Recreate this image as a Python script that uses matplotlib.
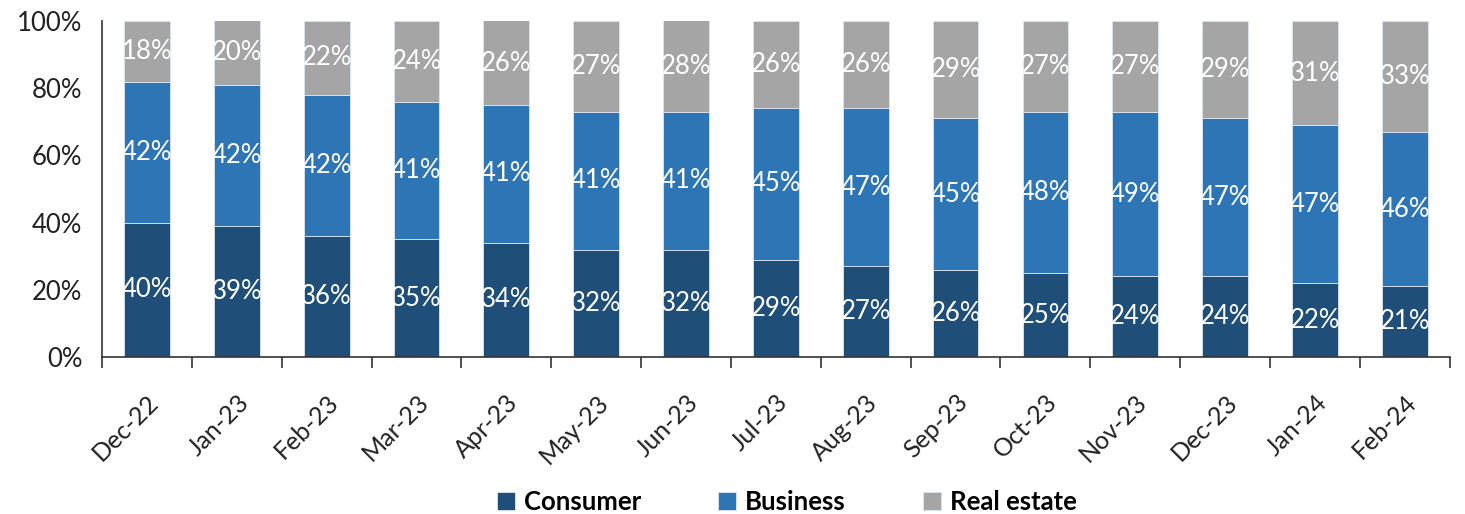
import matplotlib
matplotlib.use("Agg")
import matplotlib.pyplot as plt
import numpy as np

plt.rcParams['font.family'] = ['Lato', 'DejaVu Sans']

months = ["Dec-22", "Jan-23", "Feb-23", "Mar-23", "Apr-23", "May-23", "Jun-23",
          "Jul-23", "Aug-23", "Sep-23", "Oct-23", "Nov-23", "Dec-23", "Jan-24", "Feb-24"]
consumer = [40, 39, 36, 35, 34, 32, 32, 29, 27, 26, 25, 24, 24, 22, 21]
business = [42, 42, 42, 41, 41, 41, 41, 45, 47, 45, 48, 49, 47, 47, 46]
real_estate = [18, 20, 22, 24, 26, 27, 28, 26, 26, 29, 27, 27, 29, 31, 33]
yticks = [0, 20, 40, 60, 80, 100]

colors = {"Consumer": "#1f4e79", "Business": "#2e75b6", "Real estate": "#a5a5a5"}

fig = plt.figure(figsize=(14.65, 5.14), dpi=100)
ax = fig.add_axes([0.0696, 0.3054, 0.92, 0.6537])

x = np.arange(len(months))
width = 0.51
bottom = np.zeros(len(months))
for name, vals in [("Consumer", consumer), ("Business", business), ("Real estate", real_estate)]:
    vals = np.array(vals, dtype=float)
    ax.bar(x, vals, width, bottom=bottom, color=colors[name], label=name,
           edgecolor="#dbe7f3", linewidth=0.6, zorder=2)
    for xi, b, v in zip(x, bottom, vals):
        mid = b + v / 2
        if b + v > 100:
            mid = b + (100 - b) / 2
        ax.text(xi, mid, f"{int(v)}%", ha="center", va="center",
                color="white", fontsize=18.5, zorder=3)
    bottom += vals

ax.set_xlim(-0.5, len(months) - 0.5)
ax.set_ylim(0, 100)
ax.set_yticks(yticks)
ax.set_yticklabels([f"{t}%" for t in yticks], fontsize=18.5, color="#222222")
ax.tick_params(axis="y", length=0, pad=14)

# category boundary ticks below the axis
ax.set_xticks(np.arange(-0.5, len(months) + 0.5, 1), minor=False)
ax.set_xticklabels([])
ax.tick_params(axis="x", which="major", direction="out", length=8, width=1.2, color="#333333")
ax.set_xticks(x, minor=True)
ax.set_xticklabels(months, minor=True, rotation=45, ha="right", rotation_mode="anchor",
                   fontsize=18, color="#222222")
ax.tick_params(axis="x", which="minor", length=0, pad=24)

for s in ["top", "right"]:
    ax.spines[s].set_visible(False)
ax.spines["left"].set_color("#333333")
ax.spines["left"].set_linewidth(1.2)
ax.spines["bottom"].set_color("#333333")
ax.spines["bottom"].set_linewidth(1.2)

handles, labels = ax.get_legend_handles_labels()
leg = fig.legend(handles, labels, loc="lower center", bbox_to_anchor=(0.537, -0.045),
                 ncol=3, frameon=False, handlelength=0.7, handleheight=0.7,
                 handletextpad=0.35, columnspacing=3.0,
                 prop={"weight": "bold", "size": 18.5})

fig.savefig("out.png", dpi=100)
